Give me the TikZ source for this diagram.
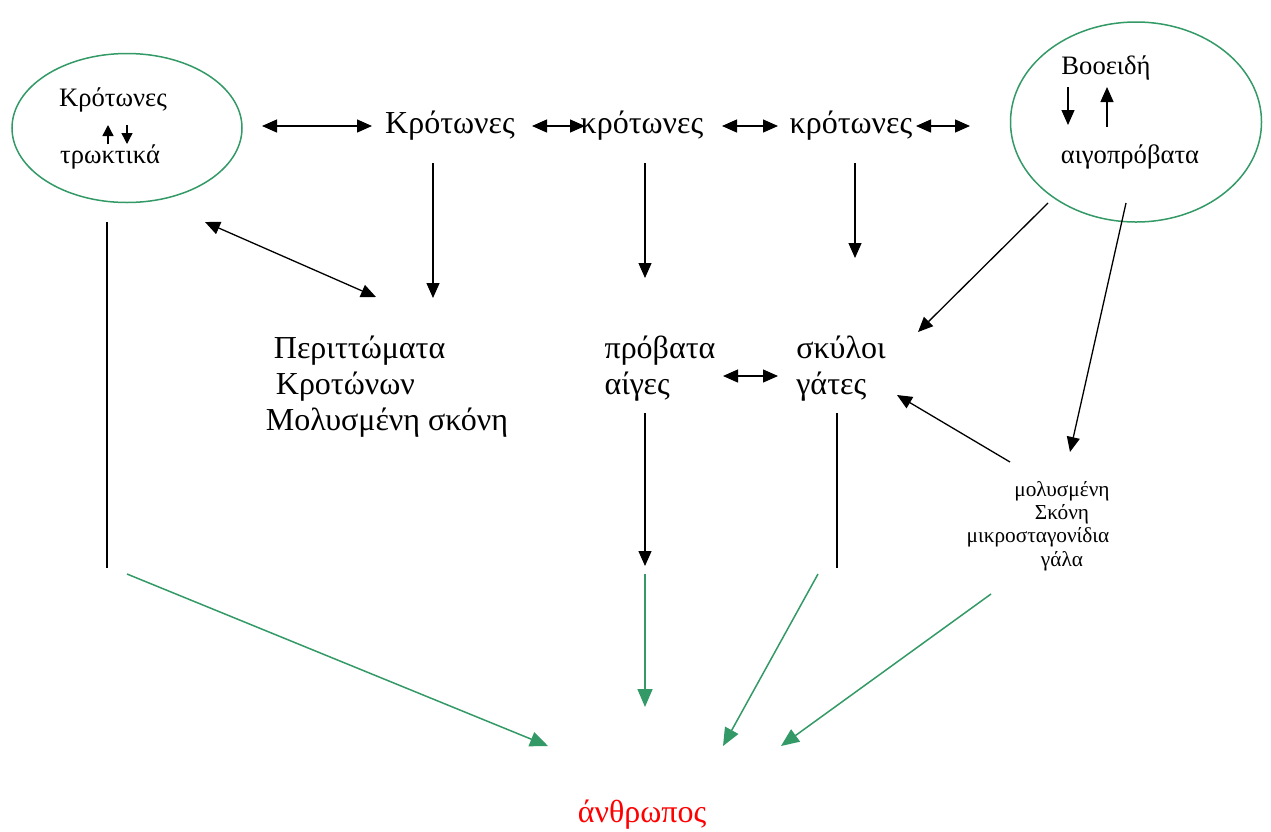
\documentclass[tikz,border=0pt]{standalone}
\usepackage{fontspec}
\setmainfont{Liberation Serif}
\usetikzlibrary{arrows.meta}
\usetikzlibrary{calc}
\usetikzlibrary{shapes.geometric}
\definecolor{grn}{RGB}{51,153,102}

\begin{document}
\begin{tikzpicture}[x=1pt,y=-1pt,
  big/.style={inner sep=0pt,font=\fontsize{32}{36}\selectfont,align=left},
  mid/.style={inner sep=0pt,font=\fontsize{26.6}{30}\selectfont},
  small/.style={inner sep=0pt,font=\fontsize{21.3}{23.3}\selectfont,align=center},
  ring/.style={ellipse,draw=grn,line width=1.5pt,inner sep=0pt},
  arr/.style={line width=1.3pt,-{Triangle[length=15pt,width=13pt]}},
  dbl/.style={line width=1.3pt,{Triangle[length=15pt,width=13pt]}-{Triangle[length=15pt,width=13pt]}},
  tiny/.style={line width=1.4pt,-{Triangle[length=11pt,width=11pt]}},
  garr/.style={color=grn,line width=1.5pt,-{Triangle[length=18pt,width=15pt]}}]
\useasboundingbox (0,0) rectangle (1271,831);
\draw (127,128) node (rodent) [ring,minimum width=230pt,minimum height=149pt] {};
\draw (113,100) node (rodentA) [mid] {Κρότωνες};
\draw (110,157) node (rodentB) [mid] {τρωκτικά};
\draw[tiny] (rodentB.center) ++(-2,-13) -- ++(0,-19);
\draw[tiny] (rodentB.center) ++(17,-32) -- ++(0,19);
\draw (1136,122) node (cattle) [ring,minimum width=251pt,minimum height=200pt] {};
\draw (1106,68) node (cattleA) [mid] {Βοοειδή};
\draw (1130,157) node (cattleB) [mid] {αιγοπρόβατα};
\draw[arr] (cattleA.center) ++(-38,19) -- ++(0,38);
\draw[arr] (cattleA.center) ++(1,59) -- ++(0,-40);
\draw (450,126) node (rat1) [big] {Κρότωνες};
\draw (642,126) node (rat2) [big] {κρότωνες};
\draw (851,126) node (rat3) [big] {κρότωνες};
\draw (387,387) node (waste) [big] {\hspace*{8pt}Περιττώματα\\\hspace*{10pt}Κροτώνων\\Μολυσμένη σκόνη};
\draw (660,369) node (sheep) [big] {πρόβατα\\αίγες};
\draw (841,369) node (dogs) [big] {σκύλοι\\γάτες};
\draw (1062,526) node (dust) [small] {μολυσμένη\\Σκόνη\\μικροσταγονίδια\rule{48pt}{0pt}\\γάλα};
\draw (642,815) node (human) [big,text=red] {άνθρωπος};
% top row
\draw[dbl] (rodent.center) ++(135,-2) -- ($(rat1.center)+(-78,0)$);
\draw[dbl] (rat1.center) ++(82,0) -- ($(rat2.center)+(-57,0)$);
\draw[dbl] (rat2.center) ++(80,0) -- ($(rat3.center)+(-73,0)$);
\draw[dbl] (rat3.center) ++(65,0) -- ($(cattle.center)+(-166,4)$);
\draw[arr] (rat1.center) ++(-17,37) -- ($(waste.center)+(46,-89)$);
\draw[arr] (rat2.center) ++(3,37) -- ($(sheep.center)+(-15,-91)$);
\draw[arr] (rat3.center) ++(4,37) -- ($(dogs.center)+(14,-111)$);
\draw[dbl] (rodent.center) ++(78,94) -- ($(waste.center)+(-11,-90)$);
\draw[arr] (cattle.center) ++(-88,81) -- ($(dogs.center)+(77,-37)$);
\draw[arr] (cattle.center) ++(-10,81) -- ($(dust.center)+(8,-74)$);
\draw[arr] (dust.center) ++(-52,-64) -- ($(dogs.center)+(56,26)$);
\draw[dbl] (sheep.center) ++(63,7) -- ($(dogs.center)+(-63,7)$);
% down to human
\draw[line width=1.3pt] (rodent.center) ++(-20,94) -- ++(0,346);
\draw[arr] (sheep.center) ++(-15,44) -- ++(0,153);
\draw[line width=1.3pt] (dogs.center) ++(-4,44) -- ++(0,155);
\draw[garr] (rodent.center) ++(0,446) -- ($(human.center)+(-94,-69)$);
\draw[garr] (sheep.center) ++(-15,205) -- ($(human.center)+(3,-108)$);
\draw[garr] (dogs.center) ++(-23,205) -- ($(human.center)+(81,-69)$);
\draw[garr] (dust.center) ++(-71,68) -- ($(human.center)+(139,-69)$);
\end{tikzpicture}
\end{document}
